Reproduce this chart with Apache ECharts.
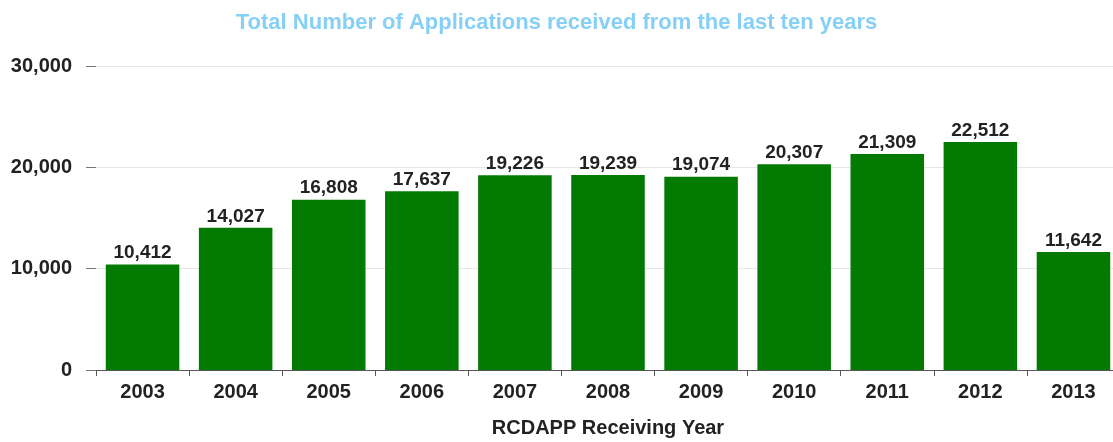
<!DOCTYPE html>
<html><head><meta charset="utf-8">
<script src="https://cdn.jsdelivr.net/npm/echarts@6/dist/echarts.min.js"></script>
<style>html,body{margin:0;padding:0;background:#fff}#c{width:1113px;height:442px}</style>
</head><body><div id="c"></div>
<script>
const categories = ['2003','2004','2005','2006','2007','2008','2009','2010','2011','2012','2013'];
const applications = [10412, 14027, 16808, 17637, 19226, 19239, 19074, 20307, 21309, 22512, 11642];
const yTicks = [0, 10000, 20000, 30000];
const titleText = 'Total Number of Applications received from the last ten years';
const xAxisTitle = 'RCDAPP Receiving Year';

const fmt = v => String(v).replace(/\B(?=(\d{3})+(?!\d))/g, ',');
const FONT = 'Liberation Sans, Arial, sans-serif';
const chart = echarts.init(document.getElementById('c'), null, {renderer: 'canvas'});
chart.setOption({
  animation: false,
  title: {
    text: titleText, left: 'center', top: 7,
    textStyle: {color: '#86cff5', fontFamily: FONT, fontWeight: 'bold', fontSize: 22}
  },
  grid: {left: 96, top: 66, width: 1024, height: 304, containLabel: false, outerBoundsMode: 'none'},
  xAxis: {
    type: 'category', data: categories,
    name: xAxisTitle, nameLocation: 'middle', nameGap: 48,
    nameTextStyle: {color: '#222', fontFamily: FONT, fontWeight: 'bold', fontSize: 20},
    axisLine: {show: true, lineStyle: {color: '#555', width: 1}},
    axisTick: {show: true, length: 6, lineStyle: {color: '#555'}},
    axisLabel: {color: '#222', fontFamily: FONT, fontWeight: 'bold', fontSize: 20, margin: 12}
  },
  yAxis: {
    type: 'value', min: yTicks[0], max: yTicks[yTicks.length-1], interval: 10000,
    axisLine: {show: false},
    axisTick: {show: true, length: 10, lineStyle: {color: '#777'}},
    splitLine: {show: true, lineStyle: {color: '#e6e6e6', width: 1}},
    axisLabel: {color: '#222', fontFamily: FONT, fontWeight: 'bold', fontSize: 20, margin: 24, formatter: fmt}
  },
  series: [{
    type: 'bar', data: applications, barCategoryGap: '21%',
    itemStyle: {color: '#037b03'},
    label: {show: true, position: 'top', distance: 2, color: '#222', fontFamily: FONT, fontWeight: 'bold', fontSize: 19, formatter: p => fmt(p.value)}
  }]
});
</script></body></html>
